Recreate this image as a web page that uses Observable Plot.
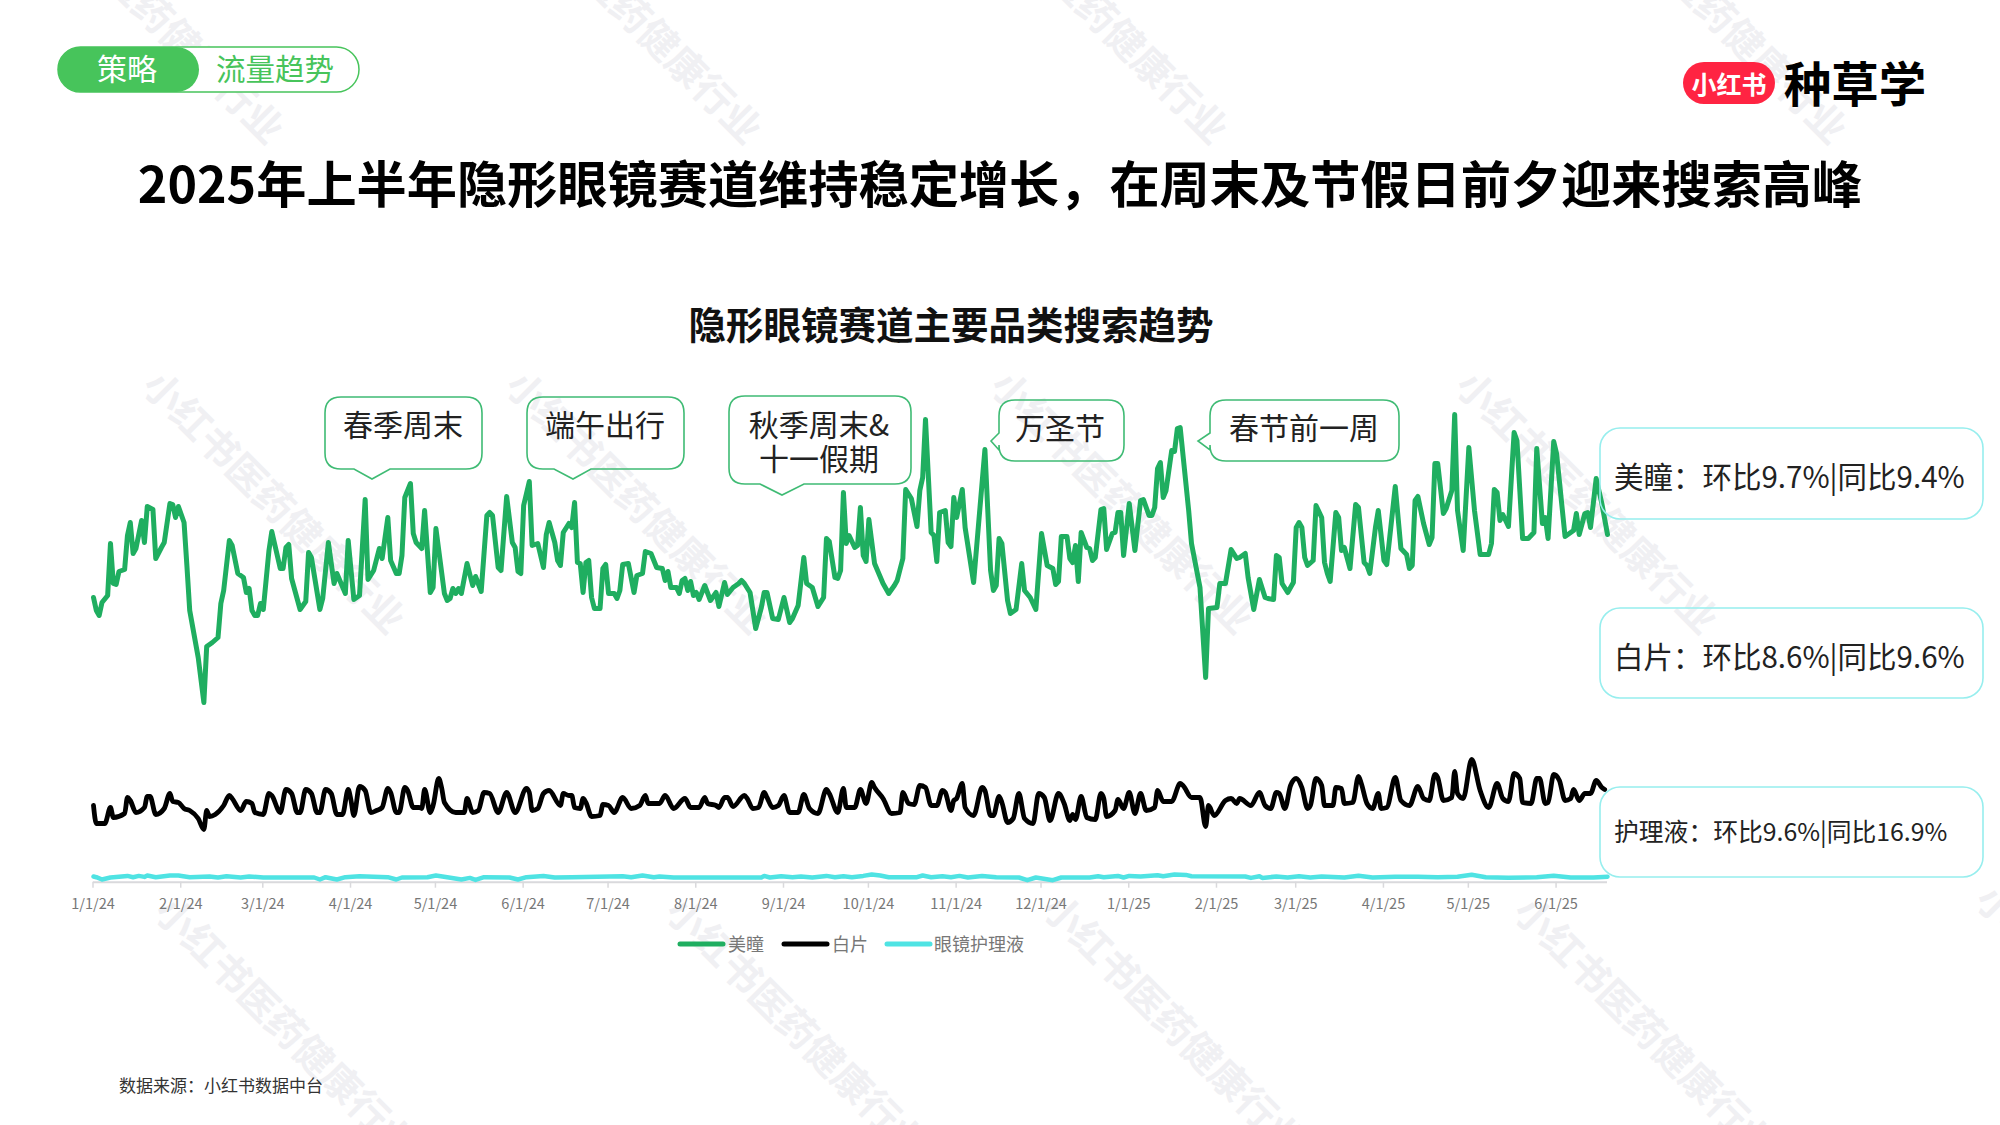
<!DOCTYPE html>
<html lang="zh-CN">
<head>
<meta charset="utf-8">
<title>隐形眼镜赛道主要品类搜索趋势</title>
<script src="https://cdn.jsdelivr.net/npm/d3@7"></script>
<script src="https://cdn.jsdelivr.net/npm/@observablehq/plot@0.6"></script>
<style>
html,body{margin:0;padding:0;background:#fff;}
#page{position:relative;width:2000px;height:1125px;overflow:hidden;background:#fff;font-family:"Noto Sans CJK SC","Noto Sans",sans-serif;}
#page svg{position:absolute;left:0;}
</style>
</head>
<body>
<div id="page"></div>
<script>
// Series: [days since 1/1/24, search index]
const startDate = "1/1/24";
const meitong = [[0,316],[1,303],[2,298],[3,311],[5,318],[6,370],[7,330],[8,329],[9,342],[11,344],[12,378],[13,391],[14,360],[15,365],[17,393],[18,371],[19,407],[21,404],[22,355],[24,366],[25,371],[27,410],[28,409],[29,396],[30,407],[32,391],[33,348],[34,303],[37,256],[39,211],[40,267],[42,271],[44,276],[45,310],[46,323],[48,373],[49,368],[51,340],[53,336],[54,321],[55,325],[56,303],[57,298],[58,298],[59,310],[60,304],[62,363],[63,382],[66,345],[67,345],[68,366],[69,369],[70,335],[73,304],[75,312],[76,361],[77,356],[80,304],[81,315],[83,371],[85,330],[86,340],[89,320],[90,373],[92,314],[94,318],[95,366],[96,414],[97,334],[99,343],[101,365],[102,355],[104,396],
[105,353],[107,340],[108,340],[109,358],[110,416],[112,430],[113,380],[114,371],[116,365],[117,403],[119,321],[120,326],[121,385],[124,320],[125,313],[126,315],[127,325],[128,320],[129,325],[130,320],[132,350],[134,328],[135,337],[137,322],[139,398],[140,401],[141,398],[143,346],[144,343],[146,417],[148,371],[149,366],[150,342],[151,340],[152,408],[154,432],[155,368],[157,370],[159,346],[160,379],[161,391],[163,371],[164,353],[165,348],[166,381],[168,390],[169,386],[170,411],[171,351],[172,350],[173,321],[174,351],[175,353],[176,316],[177,305],[179,305],[180,345],[181,349],[182,320],[184,320],[185,315],[186,323],[187,349],[189,350],[191,321],[192,338],[194,340],[195,362],[197,360],[199,346],[201,345],[202,333],[203,342],[204,326],[206,326],[207,320],[208,333],[209,335],[210,323],[211,332],[212,318],
[213,321],[214,314],[216,328],[218,313],[220,321],[221,307],[223,331],[224,319],[226,326],[228,330],[229,333],[230,330],[232,321],[234,285],[236,306],[237,321],[238,321],[240,295],[242,294],[244,316],[246,291],[247,295],[249,308],[251,356],[252,330],[254,326],[256,307],[258,316],[259,375],[260,372],[262,336],[263,335],[264,343],[265,421],[266,370],[267,378],[269,366],[270,368],[271,406],[272,358],[273,352],[274,394],[276,350],[279,330],[281,320],[283,328],[284,333],[286,355],[287,424],[289,415],[291,387],[292,423],[293,436],[294,494],[296,381],[297,378],[298,352],[299,401],[301,403],[302,371],[303,367],[304,416],[305,396],[307,424],[308,386],[311,331],[315,464],[317,343],[318,323],
[319,328],[320,375],[321,370],[323,313],[324,300],[326,304],[328,350],[329,323],[331,316],[333,304],[335,380],[337,348],[339,345],[340,329],[341,332],[342,377],[344,377],[345,355],[346,351],[347,368],[348,332],[349,381],[351,366],[352,365],[353,353],[354,356],[356,404],[357,405],[358,364],[360,380],[361,381],[362,401],[363,401],[364,358],[366,410],[368,363],[370,413],[371,414],[373,398],[374,398],[375,406],[376,445],[377,451],[378,416],[379,423],[381,463],[382,462],[383,485],[384,486],[387,403],[388,370],[391,326],[393,236],[394,305],[397,306],[398,330],[400,330],[402,364],[404,355],[405,356],[407,360],[408,336],[410,304],[412,334],[414,316],[415,315],[417,314],[418,358],[419,356],[420,330],[422,321],[424,331],[425,386],
[426,391],[427,386],[428,356],[429,348],[431,353],[432,408],[434,396],[435,351],[436,340],[437,332],[439,401],[440,396],[441,363],[442,366],[444,345],[446,409],[447,406],[449,351],[450,348],[451,340],[453,386],[454,403],[456,353],[457,349],[460,427],[462,365],[464,359],[465,345],[466,348],[467,413],[468,417],[470,390],[472,369],[473,376],[474,450],[475,450],[477,400],[478,405],[480,423],[481,499],[482,403],[484,363],[486,466],[488,403],[490,359],[493,359],[494,370],[495,424],[496,421],[497,393],[498,399],[500,387],[502,481],[503,473],[505,375],[507,375],[509,381],[510,465],[512,390],[513,396],[514,375],[516,472],[517,460],[520,377],[523,383],[524,400],[525,379],[527,400],[528,401],[529,386],[531,435],[533,410],[535,379]];
const baipian = [[0,108],[1,90],[4,90],[6,106],[7,96],[11,100],[12,116],[13,113],[15,101],[18,106],[19,117],[20,117],[22,99],[25,105],[27,120],[28,112],[30,111],[32,105],[34,103],[37,95],[39,84],[40,103],[41,97],[43,99],[46,108],[48,118],[49,115],[52,103],[54,112],[56,110],[57,101],[60,99],[62,120],[63,118],[66,101],[68,124],[70,120],[72,101],[73,101],[75,124],[77,120],[79,101],[80,101],[82,124],[84,120],[86,99],[88,99],[90,124],[91,113],[92,98],[94,127],[96,123],[98,101],[100,103],[102,106],[104,125],[105,121],
[107,101],[108,101],[110,126],[111,123],[113,106],[115,106],[116,105],[117,124],[119,101],[120,108],[122,135],[123,126],[124,111],[128,101],[131,101],[132,115],[134,101],[136,103],[138,121],[140,120],[143,101],[146,121],[149,101],[153,125],[154,121],[155,103],[157,105],[159,120],[161,123],[165,108],[166,120],[168,118],[169,118],[170,106],[172,105],[173,115],[174,111],[176,97],[179,98],[180,109],[182,108],[184,101],[187,116],[190,105],[193,108],[195,118],[196,110],[200,110],[202,118],[205,105],[209,115],[211,106],
[214,106],[216,116],[217,110],[220,108],[221,106],[223,116],[224,116],[226,107],[230,118],[231,115],[233,105],[235,106],[237,121],[238,116],[240,106],[242,108],[244,118],[246,101],[249,101],[251,119],[253,105],[256,100],[259,124],[260,120],[263,101],[265,125],[266,106],[269,106],[271,124],[273,110],[275,131],[276,126],[279,115],[282,100],[285,101],[286,121],[288,110],[290,109],[292,128],[294,126],[296,108],[298,108],[300,123],[301,121],[303,103],[304,113],[305,115],[307,130],[308,106],[311,98],[314,126],[315,123],[317,98],[318,98],
[320,117],[321,111],[323,91],[325,95],[327,120],[329,95],[332,90],[334,120],[336,116],[338,93],[341,120],[343,110],[345,93],[346,99],[347,94],[349,117],[351,96],[354,94],[356,120],[357,115],[358,97],[361,103],[362,114],[364,105],[366,121],[368,100],[370,120],[372,103],[375,106],[376,123],[378,112],[381,112],[384,130],[385,128],[388,116],[391,116],[393,87],[394,108],[396,98],[400,113],[402,115],[404,110],[405,115],[409,108],[412,121],[414,108],[416,105],[418,121],[419,120],[421,105],[423,128],
[425,135],[427,126],[429,105],[430,108],[432,135],[434,128],[435,108],[438,108],[439,126],[441,125],[442,110],[445,111],[447,137],[448,130],[450,110],[452,105],[454,120],[455,105],[457,106],[460,136],[462,113],[465,108],[468,127],[470,115],[472,113],[474,139],[475,136],[477,113],[480,116],[481,142],[482,120],[484,115],[487,154],[490,123],[493,106],[496,130],[498,115],[500,112],[502,140],[504,135],[505,111],[508,110],[510,135],[511,135],[513,110],[514,111],[516,139],[518,133],[520,113],[522,115],[523,124],[525,113],[527,120],[529,120],[531,133],[533,126],[534,124]];
const hulive = [[0,37],[1,36.3],[3,34],[6,36],[12,37.6],[14,36.3],[16,37.6],[18,36.6],[19,38],[22,36.3],[27,38],[30,38],[34,36.3],[41,37],[44,36],[47,37.3],[52,36],[55,37],[60,36],[78,36],[80,34],[82,36.3],[86,34],[89,36.3],[94,37.3],[104,36.3],[107,34],[109,36],[118,36.3],[121,38],[125,36.3],[130,34],[133,35.6],[135,33.6],[138,36.3],[147,36],[150,34],[153,36.3],[159,37.6],[163,36],[169,36.3],[187,37.3],[190,36.3],[194,38],[198,36.3],[200,37],[205,36],[215,36],[236,36],[237,37.6],[239,36],[243,37.3],[247,36.3],[250,37],[254,36],[259,37.6],[262,36.3],[265,37.3],[268,36.3],[272,37.6],[275,39],[278,38],[281,36.3],[291,36.3],[293,38],[296,36.3],[300,37.3],[303,36.3],[306,37.6],[309,36],[314,37.6],[319,36.3],[327,36],[330,33.3],[333,36],[339,33.3],[342,36],[352,36],[355,37.3],[357,36.3],[362,37.6],[364,36],[366,37.6],[370,37],[376,38.3],[378,37.3],[382,39],[386,38.6],[388,37.3],[407,37],[409,35.6],[412,37.3],[413,35.6],[418,37],[422,36],[426,37.3],[430,36],[434,37],[442,36],[447,37.8],[452,36],[460,36.8],[468,36.8],[475,36.3],[482,36.8],[487,38.8],[492,36.3],[500,35.8],[510,36.3],[516,37.8],[522,36],[530,36],[535,36.8]];
const xTickLabels = ["1/1/24","2/1/24","3/1/24","4/1/24","5/1/24","6/1/24","7/1/24","8/1/24","9/1/24","10/1/24","11/1/24","12/1/24","1/1/25","2/1/25","3/1/25","4/1/25","5/1/25","6/1/25"];
const seriesNames = ["美瞳","白片","眼镜护理液"];
const seriesColors = ["#1fae60","#000000","#4fe3e3"];
const yoyNotes = ["美瞳：环比9.7%|同比9.4%","白片：环比8.6%|同比9.6%","护理液：环比9.6%|同比16.9%"];
const eventNotes = [["春季周末"],["端午出行"],["秋季周末&","十一假期"],["万圣节"],["春节前一周"]];
const pageTitle = "2025年上半年隐形眼镜赛道维持稳定增长，在周末及节假日前夕迎来搜索高峰";
const chartTitle = "隐形眼镜赛道主要品类搜索趋势";
const sourceText = "数据来源：小红书数据中台";
const watermarkText = "小红书医药健康行业";

const parseD = d3.utcParse("%m/%d/%y");
const fmtD = d3.utcFormat("%-m/%-d/%y");
const t0 = parseD(startDate);
const toRows = (arr, name) => arr.map(([d, v]) => ({date: d3.utcDay.offset(t0, d), value: v, name}));

const page = document.getElementById("page");
const NS = "http://www.w3.org/2000/svg";
function makeSvg(z){
  const s = document.createElementNS(NS,"svg");
  s.setAttribute("width",2000); s.setAttribute("height",1125);
  s.style.top="0"; s.style.zIndex=z; s.style.fontFamily='"Noto Sans CJK SC","Noto Sans",sans-serif';
  page.appendChild(s); return d3.select(s);
}

// watermark layer
const wm = makeSvg(0);
const wmStarts = [[31,-114],[509,-114],[975,-114],[1594,-114],[152,376],[515,376],[1000,376],[1465,376],[164,902],[675,902],[1052,899],[1523,902],[1985,890]];
wmStarts.forEach(([x,y])=>{
  wm.append("text").attr("transform",`translate(${x},${y}) rotate(45)`)
    .attr("font-size",39).attr("font-weight",700).attr("fill","#f0f0f3").attr("dominant-baseline","central").text(watermarkText);
});

// chart
const lineOpts = {x: "date", y: "value", stroke: "name", strokeLinejoin: "round", strokeLinecap: "round"};
const chart = Plot.plot({
  width: 2000, height: 540,
  marginLeft: 93, marginRight: 393, marginTop: 0, marginBottom: 38.3,
  style: {background: "transparent", overflow: "visible", fontFamily: '"Noto Sans CJK SC","Noto Sans",sans-serif'},
  x: {type: "utc", domain: [t0, d3.utcDay.offset(t0, 535)], label: null},
  y: {domain: [31.3, 533], axis: null, label: null},
  color: {domain: seriesNames, range: seriesColors},
  marks: [
    Plot.ruleY([31.3], {stroke: "#d9d9dc", strokeWidth: 2}),
    Plot.axisX({ticks: xTickLabels.map(parseD), tickFormat: fmtD, tickSize: 6, tickPadding: 10.5, stroke: "#d9d9dc", strokeWidth: 1.5, fill: "#777", fontSize: 14.5, dx: -0.5, label: null, anchor: "bottom"}),
    Plot.line(toRows(hulive, seriesNames[2]), {...lineOpts, strokeWidth: 4.5}),
    Plot.line(toRows(baipian, seriesNames[1]), {...lineOpts, strokeWidth: 4.8, curve: "monotone-x"}),
    Plot.line(toRows(meitong, seriesNames[0]), {...lineOpts, strokeWidth: 5})
  ]
});
chart.style.top = "380px"; chart.style.zIndex = 1;
page.appendChild(chart);

// overlay annotations
const ov = makeSvg(2);
function txt(s,x,y,size,color,weight,anchor){
  return ov.append("text").attr("x",x).attr("y",y-2.5).attr("font-size",size).attr("fill",color)
    .attr("font-weight",weight||400).attr("text-anchor",anchor||"middle").attr("dominant-baseline","central").text(s);
}
function bubble(x0,y0,x1,y1,r,tip){
  let d=`M${x0+r},${y0}H${x1-r}Q${x1},${y0} ${x1},${y0+r}V${y1-r}Q${x1},${y1} ${x1-r},${y1}`;
  if(tip.side==="bottom") d+=`H${tip.b}L${tip.x},${tip.y}L${tip.a},${y1}`;
  d+=`H${x0+r}Q${x0},${y1} ${x0},${y1-r}`;
  if(tip.side==="left") d+=`V${tip.b}L${tip.x},${tip.y}L${x0},${tip.a}`;
  d+=`V${y0+r}Q${x0},${y0} ${x0+r},${y0}Z`;
  return d;
}
const bubbleStroke="#3fbb74";
const bubbles=[
 {box:[325,397,482,469],tip:{side:"bottom",a:354,b:390,x:372,y:479},tx:403,ty:[425]},
 {box:[527,397,684,469],tip:{side:"bottom",a:554,b:591,x:573,y:479},tx:605,ty:[425]},
 {box:[729,396,911,484],tip:{side:"bottom",a:760,b:804,x:782,y:495},tx:819,ty:[425,459]},
 {box:[999,400,1124,461],tip:{side:"left",a:433,b:450,x:991,y:441},tx:1060,ty:[428]},
 {box:[1210,400,1399,461],tip:{side:"left",a:433,b:450,x:1198,y:441},tx:1304,ty:[428]}
];
bubbles.forEach((b,i)=>{
  const [x0,y0,x1,y1]=b.box;
  ov.append("path").attr("d",bubble(x0,y0,x1,y1,16,b.tip)).attr("fill","none").attr("stroke",bubbleStroke).attr("stroke-width",1.6);
  eventNotes[i].forEach((line,j)=>txt(line,b.tx,b.ty[j],30,"#222"));
});
const boxes=[[428,519],[608,698],[787,877]];
boxes.forEach(([y0,y1],i)=>{
  ov.append("rect").attr("x",1600).attr("y",y0).attr("width",383).attr("height",y1-y0).attr("rx",20)
    .attr("fill","none").attr("stroke","#97eeee").attr("stroke-width",1.6);
  txt(yoyNotes[i],1614,(y0+y1)/2+(i===2?0:4),i===2?24.8:29.5,"#222",400,"start");
});

// pill
ov.append("rect").attr("x",58).attr("y",47).attr("width",301).attr("height",45).attr("rx",22.5).attr("fill","#fff").attr("stroke","#47c45b").attr("stroke-width",1.5);
ov.append("rect").attr("x",58).attr("y",47).attr("width",141).attr("height",45).attr("rx",22.5).attr("fill","#47c45b");
txt("策略",127,69,30,"#fff");
txt("流量趋势",275,69,29.5,"#47c45b");

// logo
ov.append("rect").attr("x",1683).attr("y",62).attr("width",92).attr("height",42).attr("rx",21).attr("fill","#ff2442");
txt("小红书",1729,85,25,"#fff",700);
txt("种草学",1855,84,47.5,"#000",700);

// titles, source
txt(pageTitle,1000,183,50.2,"#000",700);
txt(chartTitle,951,324.5,37.5,"#111",700);
txt(sourceText,119,1087,17,"#333",400,"start");

// legend
const legendItems=[[680,723,728,0],[784,827,832,1],[887,930,934,2]];
legendItems.forEach(([a,b,tx,i])=>{
  ov.append("line").attr("x1",a).attr("x2",b).attr("y1",944).attr("y2",944).attr("stroke",seriesColors[i]).attr("stroke-width",5).attr("stroke-linecap","round");
  txt(seriesNames[i],tx,945,18,"#777",400,"start");
});
</script>
</body>
</html>
